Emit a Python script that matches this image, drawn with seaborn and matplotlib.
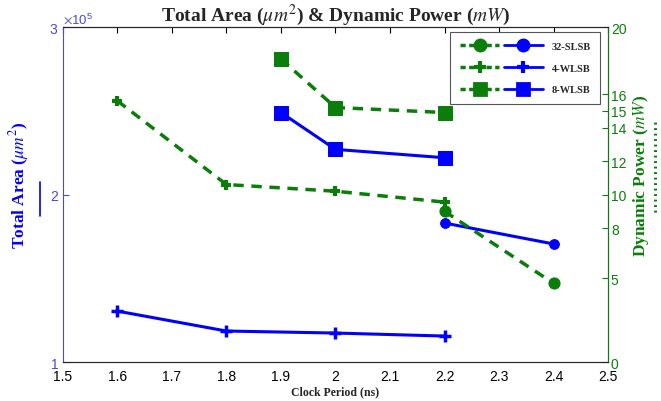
import matplotlib
matplotlib.use("Agg")
import matplotlib.pyplot as plt
import seaborn as sns
from matplotlib.lines import Line2D
from matplotlib.legend_handler import HandlerTuple
from matplotlib.ticker import ScalarFormatter

# clock period (ns) for each design
x_4wlsb = [1.6, 1.8, 2.0, 2.2]
x_8wlsb = [1.9, 2.0, 2.2]
x_32slsb = [2.2, 2.4]

# total area (um^2)
area_4wlsb = [130400, 118500, 117300, 115500]
area_8wlsb = [249000, 227000, 222000]
area_32slsb = [183000, 170500]

# dynamic power (mW)
power_4wlsb = [15.6, 10.6, 10.2, 9.55]
power_8wlsb = [18.1, 15.2, 14.9]
power_32slsb = [9.0, 4.7]

power_ticks = [0, 5, 8, 10, 12, 14, 15, 16, 20]
x_ticks = [1.5, 1.6, 1.7, 1.8, 1.9, 2.0, 2.1, 2.2, 2.3, 2.4, 2.5]
x_labels = ["1.5", "1.6", "1.7", "1.8", "1.9", "2", "2.1", "2.2", "2.3", "2.4", "2.5"]

sns.set_style("white")
plt.rcParams["font.family"] = ["Liberation Sans", "DejaVu Sans"]
plt.rcParams["mathtext.fontset"] = "stix"

BLUE = "#0000ff"
GREEN = "#0a7d0a"
AXBLUE = "#4a4ad0"

fig = plt.figure(figsize=(6.61, 4.02), dpi=100)
ax = fig.add_axes([0.095, 0.097, 0.825, 0.833])
ax2 = ax.twinx()

# blue: area on left axis, solid
sns.lineplot(x=x_32slsb, y=area_32slsb, ax=ax, color=BLUE, lw=2.2, marker="o", ms=7, mec=BLUE)
sns.lineplot(x=x_4wlsb, y=area_4wlsb, ax=ax, color=BLUE, lw=2.2, marker="+", ms=8, mew=2.5, mec=BLUE)
sns.lineplot(x=x_8wlsb, y=area_8wlsb, ax=ax, color=BLUE, lw=2.2, marker="s", ms=10, mec=BLUE)

# green: power on right axis, dashed
dash = (3, 2.2)
sns.lineplot(x=x_32slsb, y=power_32slsb, ax=ax2, color=GREEN, lw=2.5, dashes=False, linestyle=(0, dash), marker="o", ms=8, mec=GREEN)
sns.lineplot(x=x_4wlsb, y=power_4wlsb, ax=ax2, color=GREEN, lw=2.5, dashes=False, linestyle=(0, dash), marker="+", ms=7, mew=3, mec=GREEN)
sns.lineplot(x=x_8wlsb, y=power_8wlsb, ax=ax2, color=GREEN, lw=2.5, dashes=False, linestyle=(0, dash), marker="s", ms=10, mec=GREEN)

ax.set_xlim(1.5, 2.5)
ax.set_ylim(1e5, 3e5)
ax.set_yticks([1e5, 2e5, 3e5])
ax.set_xticks(x_ticks)
ax.set_xticklabels(x_labels)
fmt = ScalarFormatter(useMathText=True)
fmt.set_powerlimits((0, 0))
ax.yaxis.set_major_formatter(fmt)
ax.yaxis.get_offset_text().set_color(AXBLUE)
ax.yaxis.get_offset_text().set_fontsize(9.5)

ax2.set_ylim(0, 20)
ax2.set_yticks(power_ticks)

ax.tick_params(axis="x", direction="in", top=True, length=4, labelsize=10, pad=5, colors="black")
ax.tick_params(axis="y", direction="in", length=4, labelsize=10, pad=3, colors=AXBLUE)
ax2.tick_params(axis="y", direction="in", length=4, labelsize=10, pad=2, colors=GREEN)
for a in (ax, ax2):
    a.grid(False)
    for s in a.spines.values():
        s.set_linewidth(0.8)
ax.spines["left"].set_color(AXBLUE)
ax2.spines["left"].set_visible(False)
ax2.spines["right"].set_color(GREEN)
ax.spines["top"].set_color("#333333")
ax.spines["bottom"].set_color("#333333")

serif = ["Liberation Serif", "DejaVu Serif"]
ax.set_title(r"Total Area ($\mu m^2$) & Dynamic Power ($mW$)", family=serif,
             fontweight="bold", fontsize=14, pad=4)
ax.set_xlabel("Clock Period (ns)", family=serif, fontweight="bold", fontsize=8.5, labelpad=2)
ax.set_ylabel(r"Total Area ($\mu m^2$)", family=serif, fontweight="bold", fontsize=12.5,
              color=BLUE)
ax2.set_ylabel(r"Dynamic Power ($mW$)", family=serif, fontweight="bold", fontsize=12.5,
               color=GREEN)
ax.yaxis.set_label_coords(-0.058, 0.53)
ax2.yaxis.set_label_coords(1.042, 0.56)

# line style marks next to the axis labels (solid = area, dotted = power)
fig.add_artist(Line2D([0.0605, 0.0605], [0.46, 0.545], transform=fig.transFigure,
                      color=BLUE, lw=1.2))
fig.add_artist(Line2D([0.991, 0.991], [0.47, 0.694], transform=fig.transFigure,
                      color=GREEN, lw=2.2, linestyle=(0, (0.6, 1.2))))

# legend: dashed green + solid blue per design
names = ["32-SLSB", "4-WLSB", "8-WLSB"]
marks = [("o", 8, 1), ("+", 9, 2), ("s", 8, 1)]
handles = []
for m, size, mw in marks:
    g = Line2D([], [], color=GREEN, lw=2.5, linestyle=(0, (1.5, 1)), marker=m, ms=size, mew=mw + 1)
    b = Line2D([], [], color=BLUE, lw=2, marker=m, ms=size, mew=mw + 1)
    handles.append((g, b))
leg = ax.legend(handles, names, handler_map={tuple: HandlerTuple(ndivide=None, pad=0.4)},
                loc="upper right", bbox_to_anchor=(0.985, 0.985), borderaxespad=0,
                handlelength=8, fancybox=False, framealpha=1, edgecolor="#555555",
                prop={"family": serif, "weight": "bold", "size": 7.5},
                labelspacing=1.2, borderpad=0.9, handletextpad=0.8)
leg.get_frame().set_linewidth(0.8)

fig.savefig("out.png", dpi=100)
